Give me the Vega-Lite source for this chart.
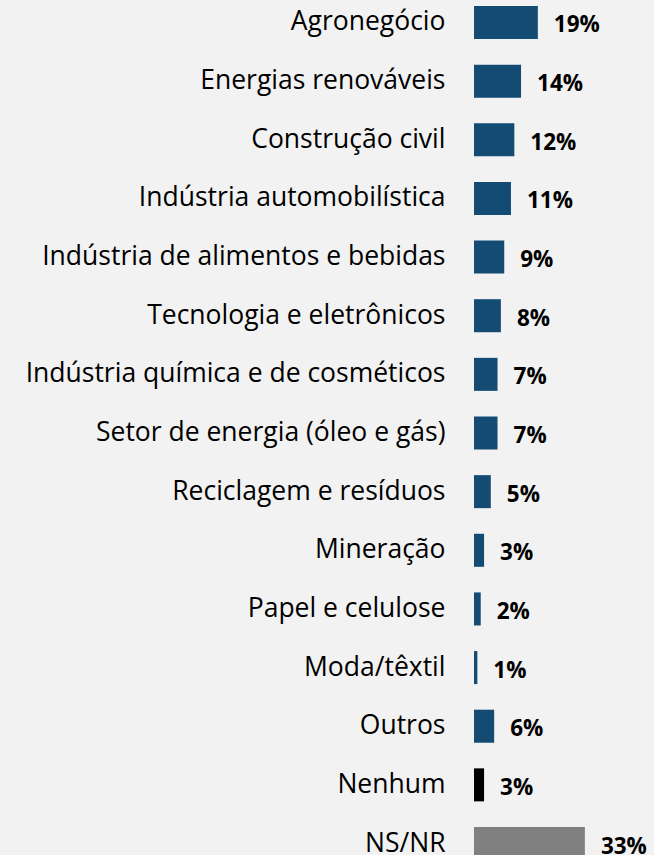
{
  "$schema": "https://vega.github.io/schema/vega-lite/v6.json",
  "autosize": "none",
  "width": 180,
  "height": 866,
  "padding": {"left": 474, "top": 0, "right": 0, "bottom": 0},
  "background": "#F2F2F2",
  "data": {"values": [
    {"cat": "Agronegócio", "pct": 0.19, "grp": "a"},
    {"cat": "Energias renováveis", "pct": 0.14, "grp": "a"},
    {"cat": "Construção civil", "pct": 0.12, "grp": "a"},
    {"cat": "Indústria automobilística", "pct": 0.11, "grp": "a"},
    {"cat": "Indústria de alimentos e bebidas", "pct": 0.09, "grp": "a"},
    {"cat": "Tecnologia e eletrônicos", "pct": 0.08, "grp": "a"},
    {"cat": "Indústria química e de cosméticos", "pct": 0.07, "grp": "a"},
    {"cat": "Setor de energia (óleo e gás)", "pct": 0.07, "grp": "a"},
    {"cat": "Reciclagem e resíduos", "pct": 0.05, "grp": "a"},
    {"cat": "Mineração", "pct": 0.03, "grp": "a"},
    {"cat": "Papel e celulose", "pct": 0.02, "grp": "a"},
    {"cat": "Moda/têxtil", "pct": 0.01, "grp": "a"},
    {"cat": "Outros", "pct": 0.06, "grp": "a"},
    {"cat": "Nenhum", "pct": 0.03, "grp": "b"},
    {"cat": "NS/NR", "pct": 0.33, "grp": "c"}
  ]},
  "encoding": {
    "y": {
      "field": "cat", "type": "nominal", "sort": null,
      "scale": {"paddingInner": 0.437, "paddingOuter": 0.102},
      "axis": {"title": null, "domain": false, "ticks": false, "labelPadding": 29, "labelFont": "Open Sans", "labelFontSize": 26.5, "labelColor": "#000000", "labelLimit": 500}
    },
    "x": {
      "field": "pct", "type": "quantitative",
      "scale": {"domain": [0, 0.5357], "nice": false},
      "axis": null
    }
  },
  "layer": [
    {
      "mark": {"type": "bar"},
      "encoding": {
        "color": {"field": "grp", "type": "nominal", "legend": null,
          "scale": {"domain": ["a", "b", "c"], "range": ["#134B73", "#000000", "#808080"]}}
      }
    },
    {
      "mark": {"type": "text", "align": "left", "dx": 16, "dy": 3, "font": "Open Sans", "fontSize": 22.5, "fontWeight": "bold", "color": "#000000"},
      "encoding": {"text": {"field": "pct", "type": "quantitative", "format": ".0%"}}
    }
  ],
  "config": {"view": {"stroke": null}}
}
